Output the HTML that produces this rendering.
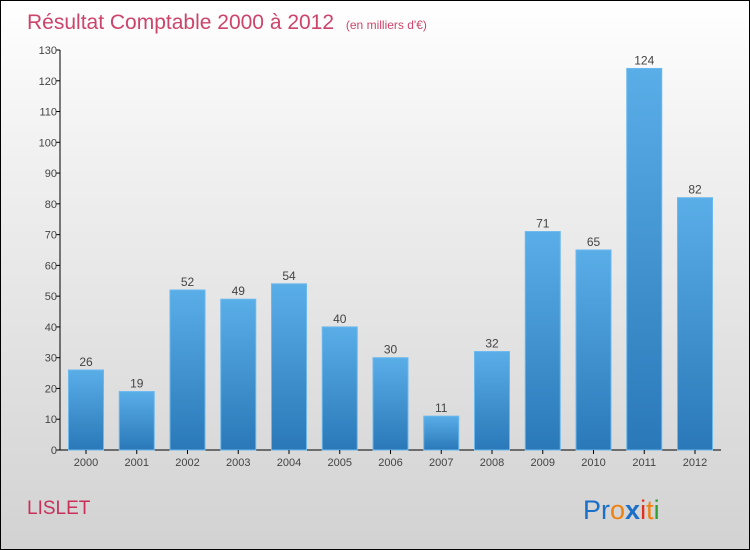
<!DOCTYPE html>
<html><head><meta charset="utf-8"><style>
body{margin:0}
#c{width:748px;height:548px;border:1px solid #000;background:linear-gradient(#fff,#f2f2f2 25%,#d2d2d2);position:relative;overflow:hidden;font-family:"Liberation Sans",sans-serif}
</style></head><body>
<div id="c">
<svg width="748" height="548" style="position:absolute;left:0;top:0">
<defs><linearGradient id="g" x1="0" y1="0" x2="0" y2="1"><stop offset="0" stop-color="#5aaee8"/><stop offset="1" stop-color="#2a78b8"/></linearGradient></defs>
<text x="26" y="28" font-size="21" fill="#c8305a" fill-opacity="0.9">Résultat Comptable 2000 à 2012 <tspan font-size="12" dx="6">(en milliers d'€)</tspan></text>
<g id="plot"></g>
<text x="26" y="513" font-size="19" fill="#c8305a">LISLET</text>
<text x="582" y="518" font-size="27"><tspan fill="#1a6fc8">Pr</tspan><tspan fill="#f08010">o</tspan><tspan fill="#1a6fc8" font-weight="bold">x</tspan><tspan fill="#e03020">i</tspan><tspan fill="#f08010">t</tspan><tspan fill="#30a030">i</tspan></text>
</svg></div>
<script>
const years=["2000","2001","2002","2003","2004","2005","2006","2007","2008","2009","2010","2011","2012"];
const values=[26,19,52,49,54,40,30,11,32,71,65,124,82];
const ticks=[0,10,20,30,40,50,60,70,80,90,100,110,120,130];
const ns="http://www.w3.org/2000/svg",p=document.getElementById("plot");
const y=v=>449-v*400/130, x=i=>85+i*50.75;
function mk(t,a,txt){const e=document.createElementNS(ns,t);for(const k in a)e.setAttribute(k,a[k]);if(txt!=null)e.textContent=txt;p.appendChild(e);return e;}
let ax=mk("line",{x1:59,y1:49,x2:59,y2:449,stroke:"#000"});


let bx=mk("line",{x1:59,y1:449,x2:720,y2:449,stroke:"#000"});


ticks.forEach(t=>{
 mk("line",{x1:55,y1:y(t),x2:59,y2:y(t),stroke:"#000"});
 let l=mk("text",{x:56,y:y(t)+4,"font-size":11,fill:"#444","text-anchor":"end"},t);
 
 
});
values.forEach((v,i)=>{
 let r=mk("rect",{x:x(i)-17.5,y:y(v),width:35,height:449-y(v),fill:"url(#g)",stroke:"#6bb8ee","stroke-width":1});
 
 
 let t=mk("text",{x:x(i),y:y(v)-4,"font-size":12,fill:"#444","text-anchor":"middle"},v);
 
 
 mk("line",{x1:x(i),y1:449,x2:x(i),y2:453,stroke:"#000"});
 let xl=mk("text",{x:x(i),y:465,"font-size":11,fill:"#444","text-anchor":"middle"},years[i]);
 
 
});
</script>
</body></html>
